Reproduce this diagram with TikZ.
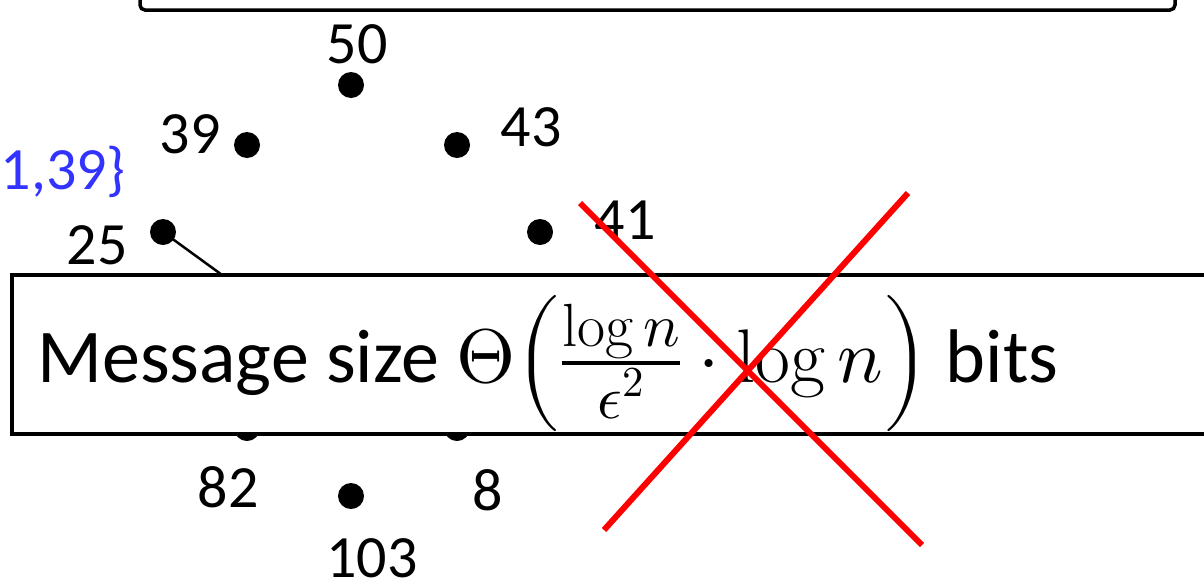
\documentclass[tikz,border=0pt]{standalone}
\usepackage{fontspec}
\usepackage{unicode-math}
\setmainfont{Carlito}
\setmathfont{Latin Modern Math}
\setmathrm{Latin Modern Roman}
\newcommand{\fracpart}[1]{\mbox{\fontsize{61}{61}\selectfont$#1$}}
\begin{document}
\begin{tikzpicture}[x=1pt,y=-1pt,
  dot/.style={circle,fill=black,inner sep=0pt,minimum size=26pt},
  lbl/.style={inner sep=0pt,font=\fontsize{60}{72}\selectfont},
  boxline/.style={draw=black,line width=3.5pt,fill=white},
  cross/.style={draw=red,line width=6pt}]
\useasboundingbox (0,0) rectangle (1204,587);
% top box (partly visible)
\draw[boxline,rounded corners=5pt] (140,-40) rectangle (1175,10);
% dots
\node[dot] (n50) at (351,85) {};
\node[dot] (n39) at (247,145) {};
\node[dot] (n43) at (457,145) {};
\node[dot] (n41) at (540,232) {};
\node[dot] (n25) at (163,232) {};
\node[dot] (n82) at (247,428) {};
\node[dot] (n8) at (457,428) {};
\node[dot] (n103) at (351,496) {};
\coordinate (hid) at (240,288);
\draw[line width=2.5pt] (n25.center) -- (hid);
% labels
\node[lbl] (l50) at (357,44) {50};
\node[lbl] (l39) at (190,134) {39};
\node[lbl] (l43) at (531,127) {43};
\node[lbl] (l41) at (625,220) {41};
\node[lbl] (l25) at (97,245) {25};
\node[lbl] (l82) at (228,487) {82};
\node[lbl] (l8) at (488,490) {8};
\node[lbl] (l103) at (372,558) {103};
\node[lbl,text={rgb,255:red,51;green,51;blue,255},anchor=east] (blue) at (126,172) {1,39\}};
% main box
\node[boxline,anchor=north west,minimum height=159pt,minimum width=1220pt,inner sep=0pt] (msgbox) at (10,273) {};
\node[anchor=base west,inner sep=0pt,font=\fontsize{76}{92}\selectfont] (msg) at (37,382)
  {Message size $\Theta\!\left(\frac{\fracpart{\log n}}{\fracpart{\epsilon^2}}\cdot\log n\right)$ bits};
% red cross
\coordinate (c1a) at (580,203);
\coordinate (c1b) at (922,545);
\coordinate (c2a) at (908,193);
\coordinate (c2b) at (604,530);
\draw[cross] (c1a) -- (c1b);
\draw[cross] (c2a) -- (c2b);
\end{tikzpicture}
\end{document}
